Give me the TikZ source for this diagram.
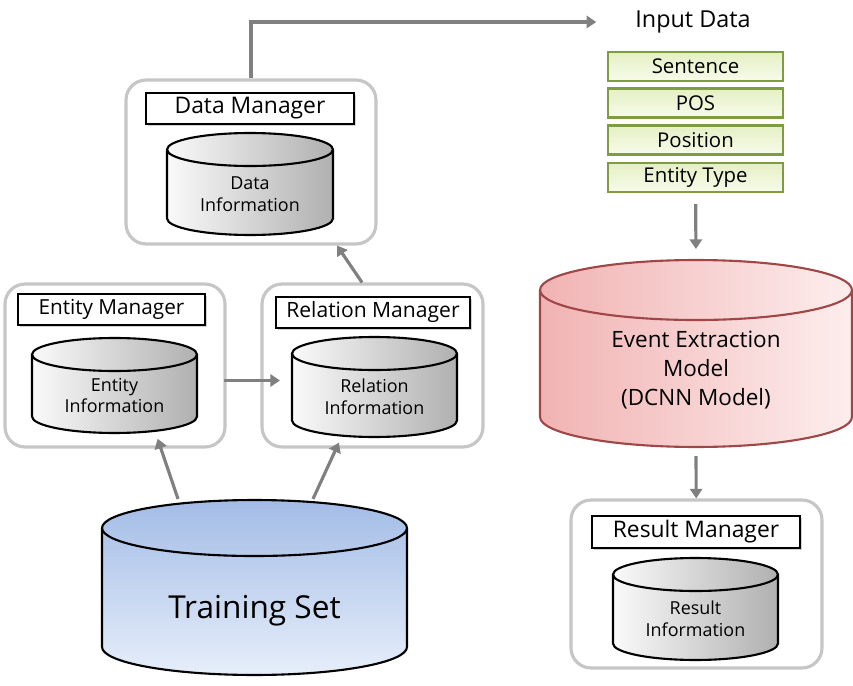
\documentclass[tikz,border=0pt]{standalone}
\usepackage{fontspec}
\setmainfont{Open Sans}
\usetikzlibrary{shapes.geometric,arrows.meta,shadows}
\definecolor{flowgray}{HTML}{808080}
\definecolor{framegray}{HTML}{C6C6C6}
\definecolor{inborder}{HTML}{7F9C45}
\definecolor{infilltop}{HTML}{E4F0C4}
\definecolor{infillbot}{HTML}{F8FBEA}
\definecolor{evborder}{HTML}{A04646}
\definecolor{evleft}{HTML}{F1B3B3}
\definecolor{evright}{HTML}{FDEDED}
\definecolor{tstop}{HTML}{A3BCE6}
\definecolor{tsbot}{HTML}{E6EEFA}
\tikzset{%
    Mframe/.style={draw=framegray, line width=1.8pt, rounded corners=0.4cm, fill=white},
    Mtitle/.style={draw=black, line width=1.3pt, fill=white, inner sep=0pt,
        minimum height=0.62cm, font=\fontsize{#1}{14}\selectfont,
        drop shadow={shadow xshift=1.2pt, shadow yshift=-1.2pt, fill=gray!70, opacity=0.5}},
    Mtitle/.default={12},
    Dcyl/.style={cylinder, shape border rotate=90, aspect=#1, inner xsep=1cm, inner ysep=0pt,
        anchor=shape center, line width=1.2pt},
    Dcyl/.default={0.33},
    Dcylgray/.style={Dcyl, draw=black, left color=gray!4, right color=gray!62},
    Dtext/.style={align=center, inner sep=0pt, font=\fontsize{#1}{12.5}\selectfont},
    Dtext/.default={10.2},
    Dinput/.style={draw=inborder, line width=1.3pt, top color=infilltop, bottom color=infillbot,
        minimum width=3.5cm, minimum height=0.58cm, inner sep=0pt, font=\fontsize{11.6}{13}\selectfont},
    Dflow/.style={draw=flowgray, line width=1.8pt, -{Triangle[length=5.5pt,width=7pt]}}
}
\begin{document}
\begin{tikzpicture}[x=0.02cm, y=-0.02cm]
    \useasboundingbox (0,0) rectangle (853,686);

    % manager frames
    \node [Mframe, minimum width=5cm, minimum height=3.28cm] (dmframe) at (251,162) {};
    \node [Mframe, minimum width=4.4cm, minimum height=3.26cm] (emframe) at (115,365.5) {};
    \node [Mframe, minimum width=4.42cm, minimum height=3.26cm] (rmframe) at (372.5,365.5) {};
    \node [Mframe, minimum width=5.02cm, minimum height=3.36cm] (resframe) at (696.5,584) {};

    % manager titles
    \node [Mtitle=13, minimum width=4.16cm] (dmtitle) at (250,108.5) {Data Manager};
    \node [Mtitle=11.8, minimum width=3.74cm] (emtitle) at (111.5,309.5) {Entity Manager};
    \node [Mtitle, minimum width=3.88cm] (rmtitle) at (373,312.5) {Relation Manager};
    \node [Mtitle=13, minimum width=4.16cm, minimum height=0.64cm] (restitle) at (696,532) {Result Manager};

    % information stores
    \node [Dcylgray, minimum width=3.32cm, minimum height=2.04cm] (dmstore) at (250,184) {};
    \node [Dcylgray, minimum width=3.3cm, minimum height=1.9cm] (emstore) at (114.5,385.5) {};
    \node [Dcylgray, minimum width=3.3cm, minimum height=2cm] (rmstore) at (374.5,387) {};
    \node [Dcylgray, minimum width=3.3cm, minimum height=2.04cm] (resstore) at (695.5,609) {};
    \foreach \st/\txt in {dmstore/Data, emstore/Entity, rmstore/Relation, resstore/Result}
        \node [Dtext] (\st txt) at ([yshift=-0.2cm]\st.shape center) {\txt\\Information};

    % input data
    \node [font=\fontsize{13.3}{15}\selectfont] (indata) at (693,22) {Input Data};
    \foreach \nm/\txt/\y in {insent/Sentence/66.5, inpos/POS/103, inposi/Position/140, intype/Entity Type/177.5}
        \node [Dinput] (\nm) at (695.5,\y) {\txt};

    % model and training data
    \node [Dcyl=0.6, draw=evborder, left color=evleft, right color=evright,
        minimum width=6.24cm, minimum height=3.74cm] (evmodel) at (696,353.5) {};
    \node [Dtext=12.8, font=\fontsize{12.8}{16.5}\selectfont] (evmodeltxt)
        at ([yshift=-0.33cm]evmodel.shape center) {Event Extraction\\Model\\(DCNN Model)};
    \node [Dcyl=0.56, draw=black, top color=tstop, bottom color=tsbot,
        minimum width=6.1cm, minimum height=3.5cm] (trainset) at (254.5,587.5) {};
    \node [Dtext=18] (trainsettxt) at ([yshift=-0.46cm]trainset.shape center) {Training Set};

    % flows
    \draw [Dflow, shorten >=0.66cm] (dmframe.north) |- (indata.west);
    \draw [Dflow, shorten <=0.22cm, shorten >=0.2cm] (intype) -- (evmodel.top);
    \draw [Dflow, shorten <=0.16cm] (evmodel.bottom) -- (resframe);
    \coordinate (emout) at ([yshift=-0.3cm]emframe.east);
    \draw [Dflow, shorten <=-0.06cm, shorten >=0.22cm] (emout) -- (emout -| rmstore.west);
    \draw [Dflow] ([xshift=-0.21cm]rmframe.north) -- ([xshift=1.72cm]dmframe.south);
    \draw [Dflow, shorten >=0.1cm] ([xshift=-1.53cm]trainset.north) -- ([xshift=0.83cm]emstore.south);
    \draw [Dflow, shorten >=0.1cm] ([xshift=1.17cm]trainset.north) -- ([xshift=-0.67cm]rmstore.south);
\end{tikzpicture}
\end{document}
